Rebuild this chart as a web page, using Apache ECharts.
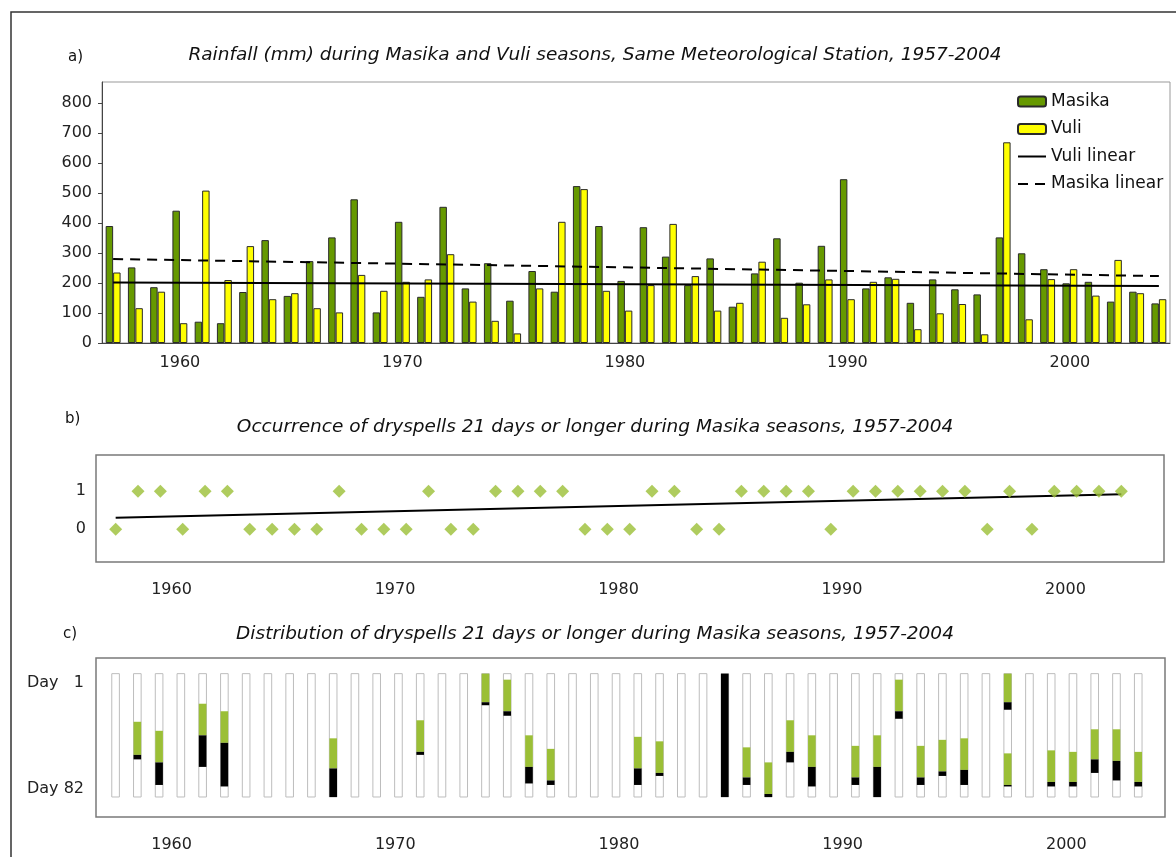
<!DOCTYPE html>
<html>
<head>
<meta charset="utf-8">
<title>Masika / Vuli rainfall and dryspells</title>
<script src="https://cdn.jsdelivr.net/npm/echarts/dist/echarts.min.js"></script>
<style>
  html, body { margin: 0; padding: 0; background: #fff; }
  #chart { width: 1176px; height: 857px; }
</style>
</head>
<body>
<div id="chart"></div>
<script>
// years of the record (category axis of panel a, columns of panel c)
const years = []
for (let y = 1957; y <= 2004; y++) years.push(y)

// a) seasonal rainfall, mm
const masika = [390, 252, 186, 441, 71, 66, 170, 343, 157, 273,
  352, 479, 102, 404, 154, 454, 182, 266, 141, 240,
  171, 523, 390, 207, 386, 288, 193, 282, 121, 232,
  349, 201, 324, 546, 182, 219, 134, 212, 179, 162,
  352, 299, 246, 199, 204, 138, 171, 132]
const vuli = [235, 116, 171, 66, 508, 210, 323, 146, 166, 116,
  102, 227, 174, 204, 212, 296, 138, 74, 32, 182,
  404, 513, 174, 108, 193, 397, 223, 108, 134, 271,
  84, 129, 212, 146, 204, 214, 46, 99, 130, 29,
  669, 79, 213, 246, 158, 277, 166, 146]
const vuliTrend = [202, 190] // first and last year
const masikaTrend = [280, 223]
const rainTicks = [0, 100, 200, 300, 400, 500, 600, 700, 800]

// b) dryspell of 21 days or longer (1 = yes)
const occYears = years.slice(0, 46) // 1957-2002
const occurrence = [0, 1, 1, 0, 1, 1, 0, 0, 0, 0, 1, 0, 0, 0, 1, 0, 0, 1, 1, 1, 1, 0, 0, 0,
  1, 1, 0, 0, 1, 1, 1, 1, 0, 1, 1, 1, 1, 1, 1, 0, 1, 0, 1, 1, 1, 1]
const occTrend = [0.30, 0.92]

// c) dryspells inside the season (day 1 .. day 82)
const seasonDays = 82
const spellYear = [1958, 1959, 1961, 1962, 1967, 1971, 1974, 1975, 1976, 1977, 1981, 1982, 1985,
  1986, 1987, 1988, 1989, 1991, 1992, 1993, 1994, 1995, 1996, 1998, 1998, 2000, 2001, 2002, 2003, 2004]
const greenStart = [32, 38, 20, 25, 43, 31, 0, 4, 41, 50, 42, 45, 0,
  49, 59, 31, 41, 48, 41, 4, 48, 44, 43, 0, 53, 51, 52, 37, 37, 52]
const greenEnd = [54, 59, 41, 46, 63, 52, 19, 25, 62, 71, 63, 66, 0,
  69, 80, 52, 62, 69, 62, 25, 69, 65, 64, 19, 74, 72, 72, 57, 58, 72]
const blackEnd = [57, 74, 62, 75, 82, 54, 21, 28, 73, 74, 74, 68, 82,
  74, 82, 59, 75, 74, 82, 30, 74, 68, 74, 24, 75, 75, 75, 66, 71, 75]

const decades = [1960, 1970, 1980, 1990, 2000]
const labelShift = 0.5 // year labels sit on the tick before the year

const font = 'DejaVu Sans'
const lime = '#9bbf36'
const colW = 0.35 // column width in years

function segRenderer(fill, stroke) {
  return function(params, api) {
    const x = api.value(0)
    const p0 = api.coord([x, api.value(1)])
    const p1 = api.coord([x, api.value(2)])
    const w = api.size([colW, 0])[0]
    if (p1[1] - p0[1] <= 0) return
    return {
      type: 'rect',
      shape: { x: p0[0] - w / 2, y: p0[1], width: w, height: p1[1] - p0[1] },
      style: { fill: fill, stroke: stroke, lineWidth: stroke ? 1 : 0 }
    }
  }
}

const titleStyle = { fontFamily: font, fontSize: 18.5, fontStyle: 'italic', fontWeight: 'normal', color: '#111' }
const tagStyle = { fontFamily: font, fontSize: 15, fontWeight: 'normal', color: '#111' }
const yearLabel = {
  customValues: decades.map(d => d - labelShift),
  formatter: v => String(Math.round(v + labelShift)),
  fontFamily: font, fontSize: 16, color: '#222', margin: 20
}
const noAxisParts = { axisLine: { show: false }, axisTick: { show: false }, splitLine: { show: false } }

const option = {
  animation: false,
  title: [
    { text: 'a)', left: 68, top: 50, padding: 0, textStyle: tagStyle },
    { text: 'Rainfall (mm) during Masika and Vuli seasons, Same Meteorological Station, 1957-2004',
      left: 595, top: 46, padding: 0, textAlign: 'center', textStyle: titleStyle },
    { text: 'b)', left: 65, top: 412, padding: 0, textStyle: tagStyle },
    { text: 'Occurrence of dryspells 21 days or longer during Masika seasons, 1957-2004',
      left: 595, top: 418, padding: 0, textAlign: 'center', textStyle: titleStyle },
    { text: 'c)', left: 63, top: 627, padding: 0, textStyle: tagStyle },
    { text: 'Distribution of dryspells 21 days or longer during Masika seasons, 1957-2004',
      left: 595, top: 625, padding: 0, textAlign: 'center', textStyle: titleStyle }
  ],
  legend: {
    data: [
      'Masika',
      'Vuli',
      { name: 'Vuli linear', itemStyle: { opacity: 0 } },
      { name: 'Masika linear', itemStyle: { opacity: 0 } }
    ],
    orient: 'vertical',
    left: 1017,
    top: 93,
    padding: 0,
    itemWidth: 28,
    itemHeight: 10,
    itemGap: 10.5,
    selectedMode: false,
    textStyle: { fontFamily: font, fontSize: 17, color: '#111', lineHeight: 17 }
  },
  graphic: [
    { type: 'rect', shape: { x: 11, y: 12, width: 1200, height: 900 },
      style: { fill: 'none', stroke: '#333', lineWidth: 1.5 }, silent: true }
  ],
  grid: [
    { left: 102, right: 6, top: 82, bottom: 514, show: true, borderColor: '#999', borderWidth: 1 },
    { left: 96, right: 12, top: 455, bottom: 295, show: true, borderColor: '#7a7a7a', borderWidth: 1.5 },
    { left: 96, right: 11, top: 658, bottom: 40, show: true, borderColor: '#7a7a7a', borderWidth: 1.5 }
  ],
  xAxis: [
    {
      type: 'category', gridIndex: 0, data: years.map(String),
      axisLine: { lineStyle: { color: '#444' } },
      axisTick: { interval: 0, length: 4, lineStyle: { color: '#444' } },
      axisLabel: {
        interval: (i, v) => Number(v) % 10 === 0,
        fontFamily: font, fontSize: 16, color: '#222', margin: 12
      }
    },
    Object.assign({ type: 'value', gridIndex: 1, min: 1956.12, max: 2003.91, axisLabel: yearLabel }, noAxisParts),
    // panel c: columns are spaced on their own scale, the year labels follow panel b
    { type: 'value', gridIndex: 2, min: 1956.10, max: 2005.23, show: false },
    Object.assign({ type: 'value', gridIndex: 2, position: 'bottom', min: 1956.12, max: 2003.91, axisLabel: yearLabel }, noAxisParts)
  ],
  yAxis: [
    {
      type: 'value', gridIndex: 0, min: 0, max: 870,
      axisLine: { show: true, lineStyle: { color: '#444' } },
      axisTick: { show: true, length: 4, customValues: rainTicks, lineStyle: { color: '#444' } },
      splitLine: { show: false },
      axisLabel: { customValues: rainTicks, fontFamily: font, fontSize: 16, color: '#222', margin: 10 }
    },
    Object.assign({
      type: 'value', gridIndex: 1, min: -0.86, max: 1.95,
      axisLabel: { customValues: [0, 1], fontFamily: font, fontSize: 16, color: '#222', margin: 10 }
    }, noAxisParts),
    Object.assign({
      type: 'value', gridIndex: 2, inverse: true, min: -10.4, max: 95.3,
      axisLabel: { customValues: [1], formatter: 'Day   {value}', verticalAlign: 'top',
        fontFamily: font, fontSize: 16, color: '#222', margin: 12 }
    }, noAxisParts),
    Object.assign({
      type: 'value', gridIndex: 2, inverse: true, min: -10.4, max: 95.3, position: 'left',
      axisLabel: { customValues: [seasonDays], formatter: 'Day {value}', verticalAlign: 'bottom',
        fontFamily: font, fontSize: 16, color: '#222', margin: 12 }
    }, noAxisParts)
  ],
  series: [
    {
      name: 'Masika', type: 'bar', xAxisIndex: 0, yAxisIndex: 0, data: masika,
      barGap: '0%', barCategoryGap: '33%',
      itemStyle: { color: '#669900', borderColor: '#2a2a2a', borderWidth: 1 }
    },
    {
      name: 'Vuli', type: 'bar', xAxisIndex: 0, yAxisIndex: 0, data: vuli,
      itemStyle: { color: '#ffff00', borderColor: '#2a2a2a', borderWidth: 1 }
    },
    {
      name: 'Vuli linear', type: 'line', xAxisIndex: 0, yAxisIndex: 0, symbol: 'none', z: 5,
      data: [[String(years[0]), vuliTrend[0]], [String(years[years.length - 1]), vuliTrend[1]]],
      itemStyle: { color: '#000' }, lineStyle: { color: '#000', width: 2 }
    },
    {
      name: 'Masika linear', type: 'line', xAxisIndex: 0, yAxisIndex: 0, symbol: 'none', z: 5,
      data: [[String(years[0]), masikaTrend[0]], [String(years[years.length - 1]), masikaTrend[1]]],
      itemStyle: { color: '#000' }, lineStyle: { color: '#000', width: 2, type: [10, 7] }
    },
    {
      name: 'Occurrence', type: 'scatter', xAxisIndex: 1, yAxisIndex: 1,
      symbol: 'diamond', symbolSize: 13,
      data: occYears.map((y, i) => [y, occurrence[i]]),
      itemStyle: { color: lime }
    },
    {
      name: 'Occurrence linear', type: 'line', xAxisIndex: 1, yAxisIndex: 1, symbol: 'none', z: 1,
      data: [[occYears[0], occTrend[0]], [occYears[occYears.length - 1], occTrend[1]]],
      lineStyle: { color: '#000', width: 2 }
    },
    {
      name: 'Season', type: 'custom', xAxisIndex: 2, yAxisIndex: 2,
      renderItem: segRenderer('#fff', '#bdbdbd'),
      data: years.map(y => [y, 0, seasonDays])
    },
    {
      name: 'First 21 days', type: 'custom', xAxisIndex: 2, yAxisIndex: 2,
      renderItem: segRenderer(lime, null),
      data: spellYear.map((y, i) => [y, greenStart[i], greenEnd[i]])
    },
    {
      name: 'Beyond 21 days', type: 'custom', xAxisIndex: 2, yAxisIndex: 2,
      renderItem: segRenderer('#000', null),
      data: spellYear.map((y, i) => [y, greenEnd[i], blackEnd[i]])
    }
  ]
}

const myChart = echarts.init(document.getElementById('chart'))
myChart.setOption(option)
</script>
</body>
</html>
